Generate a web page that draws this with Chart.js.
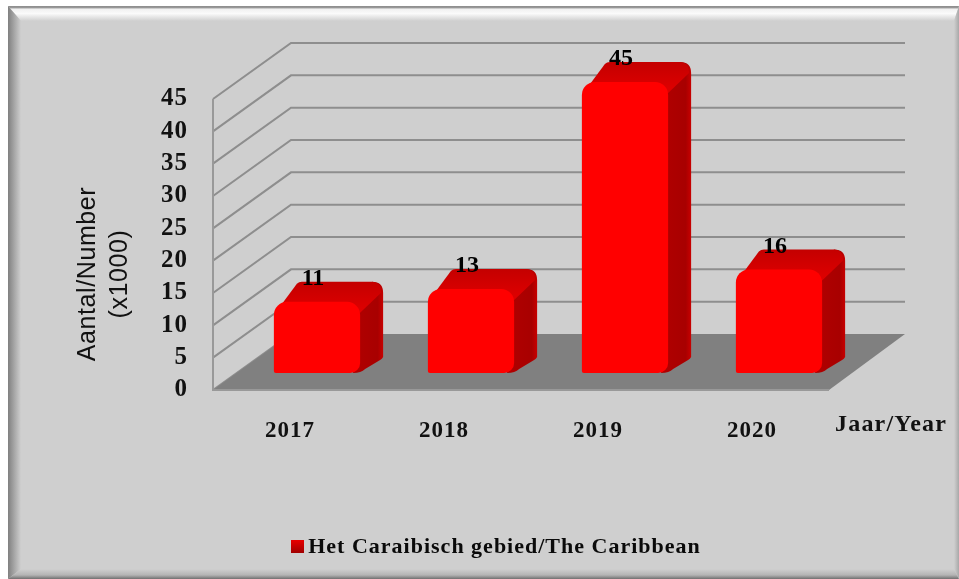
<!DOCTYPE html>
<html><head><meta charset="utf-8">
<script src="https://cdn.jsdelivr.net/npm/chart.js@4"></script>
<style>html,body{margin:0;padding:0;background:#fff}canvas{display:block}</style>
</head><body>
<div style="width:959px;height:579px"><canvas id="c"></canvas></div>
<script>
const categories = ['2017','2018','2019','2020'];
const values = [11,13,45,16];
const seriesName = 'Het Caraibisch gebied/The Caribbean';
const yTitleLines = ['Aantal/Number','(x1000)'];
const xTitle = 'Jaar/Year';
const serif = '"Liberation Serif"';

const WALL_DX = 78, WALL_DY = 56;
const BAR_SHIFT_X = 27, BAR_SHIFT_Y = 17;
const EX = 23, EY = 20, R = 11;

function frame(ctx){
  const L=8,T=6,Rt=959,B=579;
  const bL=13,bT=15,bR=5,bB=10;
  ctx.fillStyle='#fff';ctx.fillRect(0,0,959,579);
  ctx.fillStyle='#cfcfcf';ctx.fillRect(L,T,Rt-L,B-T);
  const band=(pts,g)=>{ctx.fillStyle=g;ctx.beginPath();pts.forEach((p,i)=>i?ctx.lineTo(p[0],p[1]):ctx.moveTo(p[0],p[1]));ctx.closePath();ctx.fill();};
  let g=ctx.createLinearGradient(0,T,0,T+bT);
  g.addColorStop(0,'#8c8c8c');g.addColorStop(.12,'#9a9a9a');g.addColorStop(.2,'#f0f0f0');g.addColorStop(.5,'#fafafa');g.addColorStop(1,'#cfcfcf');
  band([[L,T],[Rt,T],[Rt-bR,T+bT],[L+bL,T+bT]],g);
  g=ctx.createLinearGradient(L,0,L+bL,0);
  g.addColorStop(0,'#808080');g.addColorStop(1,'#cfcfcf');
  band([[L,T],[L+bL,T+bT],[L+bL,B-bB],[L,B]],g);
  g=ctx.createLinearGradient(0,B-bB,0,B);
  g.addColorStop(0,'#cfcfcf');g.addColorStop(.6,'#b4b4b4');g.addColorStop(1,'#707070');
  band([[L,B],[L+bL,B-bB],[Rt-bR,B-bB],[Rt,B]],g);
  g=ctx.createLinearGradient(Rt-bR,0,Rt,0);
  g.addColorStop(0,'#cfcfcf');g.addColorStop(1,'#a8a8a8');
  band([[Rt,T],[Rt,B],[Rt-bR,B-bB],[Rt-bR,T+bT]],g);
}

const scene = {
  id:'scene',
  afterLayout(chart){ chart.legend.left += 2; },
  beforeDraw(chart){
    const ctx=chart.ctx;
    frame(ctx);
    ctx.letterSpacing='1px';
  },
  beforeDatasetsDraw(chart){
    const ctx=chart.ctx, y=chart.scales.y, a=chart.chartArea;
    ctx.save();
    const y0=y.getPixelForValue(0);
    // walls from the value axis
    ctx.strokeStyle='#8e8e8e';ctx.lineWidth=2;
    y.ticks.forEach(t=>{
      const py=y.getPixelForValue(t.value);
      ctx.beginPath();
      ctx.moveTo(a.left,py);ctx.lineTo(a.left+WALL_DX,py-WALL_DY);
      if(t.value!==0) ctx.lineTo(a.right+WALL_DX-2,py-WALL_DY);
      ctx.stroke();
    });
    // floor
    ctx.fillStyle='#808080';
    ctx.beginPath();
    ctx.moveTo(a.left,y0);ctx.lineTo(a.right,y0);
    ctx.lineTo(a.right+WALL_DX-2,y0-WALL_DY);ctx.lineTo(a.left+WALL_DX,y0-WALL_DY);
    ctx.closePath();ctx.fill();
    ctx.beginPath();ctx.moveTo(a.left,a.top);ctx.lineTo(a.left,y0);ctx.lineTo(a.right,y0);
    ctx.strokeStyle='#999';ctx.stroke();
    // bar extrusions
    const meta=chart.getDatasetMeta(0);
    meta.data.forEach(el=>{
      const p=el.getProps(['x','y','base','width'],true);
      const xL=p.x-p.width/2+BAR_SHIFT_X, xR=p.x+p.width/2+BAR_SHIFT_X;
      const yT=p.y-BAR_SHIFT_Y, yB=p.base-BAR_SHIFT_Y;
      // side
      let g=ctx.createLinearGradient(xR-4,0,xR+EX,0);
      g.addColorStop(0,'#b00000');g.addColorStop(.8,'#a80000');g.addColorStop(1,'#c80000');
      ctx.fillStyle=g;
      ctx.beginPath();
      ctx.moveTo(xR-R,yT+2);
      ctx.lineTo(xR+EX-R,yT-EY);
      ctx.quadraticCurveTo(xR+EX,yT-EY,xR+EX,yT-EY+R);
      ctx.lineTo(xR+EX,yB-EY+4);
      ctx.quadraticCurveTo(xR+EX-1,yB-EY+6,xR+EX-3,yB-EY+7);
      ctx.lineTo(xR+5,yB-4);
      ctx.quadraticCurveTo(xR+1,yB,xR-7,yB);
      ctx.closePath();ctx.fill();
      // top
      g=ctx.createLinearGradient(0,yT-EY,0,yT+6);
      g.addColorStop(0,'#c40000');g.addColorStop(1,'#dc0000');
      ctx.fillStyle=g;
      ctx.beginPath();
      ctx.moveTo(xL+3,yT+9);
      ctx.lineTo(xL+EX,yT-EY+2);
      ctx.quadraticCurveTo(xL+EX+2,yT-EY,xL+EX+5,yT-EY);
      ctx.lineTo(xR+EX-R,yT-EY);
      ctx.quadraticCurveTo(xR+EX-2,yT-EY,xR+EX-2,yT-EY+R);
      ctx.lineTo(xR,yT+R);
      ctx.closePath();ctx.fill();
    });
    ctx.restore();
    ctx.save();
    ctx.translate(BAR_SHIFT_X,-BAR_SHIFT_Y);
  },
  afterDatasetsDraw(chart){
    const ctx=chart.ctx;
    ctx.restore();
    const meta=chart.getDatasetMeta(0);
    ctx.save();
    ctx.fillStyle='#000';ctx.textAlign='center';ctx.textBaseline='middle';
    ctx.font='bold 24px '+serif;ctx.letterSpacing='0px';
    meta.data.forEach((el,i)=>{
      ctx.fillText(String(values[i]),el.x+BAR_SHIFT_X-4,el.y-BAR_SHIFT_Y-23);
    });
    ctx.restore();
  },
  afterDraw(chart){
    const ctx=chart.ctx;
    ctx.save();
    ctx.fillStyle='#111';ctx.textAlign='center';ctx.textBaseline='middle';
    ctx.font='25px "Liberation Sans"';ctx.letterSpacing='0.6px';
    ctx.translate(88,274);ctx.rotate(-Math.PI/2);
    ctx.fillText(yTitleLines[0],0,0);
    ctx.fillText(yTitleLines[1],0,32);
    ctx.restore();
    ctx.save();
    ctx.fillStyle='#111';ctx.font='bold 24px '+serif;ctx.letterSpacing='1.2px';
    ctx.textAlign='left';ctx.textBaseline='middle';
    ctx.fillText(xTitle,835,425);
    ctx.restore();
    const g=ctx.createLinearGradient(0,540,0,553);
    g.addColorStop(0,'#e80000');g.addColorStop(1,'#a00000');
    ctx.fillStyle=g;
    ctx.fillRect(291,540,13,13);
    ctx.letterSpacing='0px';
  }
};

new Chart(document.getElementById('c'),{
  type:'bar',
  data:{labels:categories,datasets:[{
    label:seriesName,data:values,backgroundColor:'#ff0000',
    borderSkipped:false,
    borderRadius:{topLeft:13,topRight:13,bottomLeft:2,bottomRight:10},
    barPercentage:0.56,categoryPercentage:1
  }]},
  options:{
    responsive:true,maintainAspectRatio:false,animation:false,
    layout:{padding:{left:131,right:130,top:99,bottom:11}},
    plugins:{
      tooltip:{enabled:false},
      legend:{position:'bottom',labels:{
        boxWidth:1,boxHeight:1,padding:10,color:'#111',
        font:{family:serif,weight:'bold',size:22},
        generateLabels:()=>[{text:seriesName,fontColor:'#0a0a0a',fillStyle:'rgba(0,0,0,0)',strokeStyle:'rgba(0,0,0,0)',lineWidth:0,datasetIndex:0}]
      }}
    },
    scales:{
      x:{
        grid:{display:false},border:{display:false},
        ticks:{color:'#111',padding:19,maxRotation:0,font:{family:serif,weight:'bold',size:23}},
        afterFit(s){s.height=136;}
      },
      y:{
        min:0,max:45,
        grid:{display:false},border:{display:false},
        ticks:{stepSize:5,autoSkip:false,color:'#111',padding:17,font:{family:serif,weight:'bold',size:25}},
        afterFit(s){s.width=82;}
      }
    }
  },
  plugins:[scene]
});
</script>
</body></html>
